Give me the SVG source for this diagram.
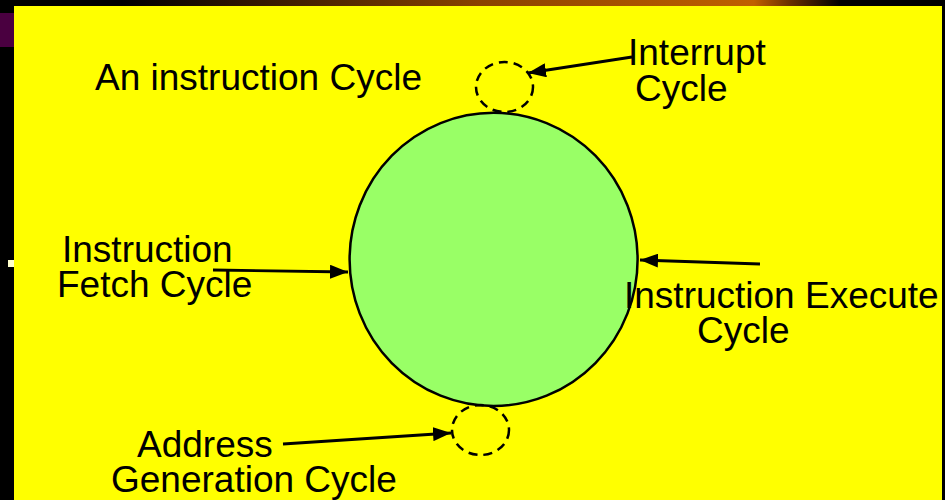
<svg xmlns="http://www.w3.org/2000/svg" width="945" height="500" viewBox="0 0 945 500">
<defs>
<linearGradient id="top" x1="122" y1="0" x2="840" y2="0" gradientUnits="userSpaceOnUse">
<stop offset="0" stop-color="#000000"/>
<stop offset="0.5" stop-color="#8a4200"/>
<stop offset="0.88" stop-color="#c06000"/>
<stop offset="0.93" stop-color="#6a3000"/>
<stop offset="1" stop-color="#000000"/>
</linearGradient>
<marker id="ah" viewBox="0 0 18 14" refX="18" refY="7" markerWidth="18" markerHeight="14" markerUnits="userSpaceOnUse" orient="auto">
<path d="M0,0 L18,7 L0,14 Z" fill="#000"/>
</marker>
<style>
.t{font-family:"Liberation Sans",Arial,sans-serif;font-size:37px;fill:#000}
.c{stroke:#000;stroke-width:2.8;fill:none;marker-end:url(#ah)}
.d{fill:none;stroke:#000;stroke-width:2.5;stroke-dasharray:9,6}
</style>
</defs>
<rect x="0" y="0" width="945" height="500" fill="#000"/>
<rect x="122" y="0" width="720" height="6" fill="url(#top)"/>
<rect x="0" y="13" width="14" height="34" fill="#4a0040"/>
<rect x="8" y="260" width="6" height="7" fill="#ffffcc"/>
<rect x="14" y="6" width="928" height="494" fill="#ffff00"/>

<g id="main-cycle">
<ellipse cx="493.6" cy="259.4" rx="144" ry="146.6" fill="#99ff66" stroke="#000" stroke-width="2.5"/>
</g>
<g id="interrupt-cycle">
<ellipse cx="504.5" cy="87" rx="28.5" ry="25" class="d"/>
</g>
<g id="address-cycle">
<ellipse cx="480.5" cy="430" rx="28.5" ry="25" class="d"/>
</g>

<g id="title"><text class="t" x="95" y="90">An instruction Cycle</text></g>
<g id="interrupt-label"><text class="t" x="628" y="65">Interrupt</text><text class="t" x="635" y="101">Cycle</text></g>
<g id="fetch-label"><text class="t" x="62" y="262">Instruction</text><text class="t" x="57" y="297">Fetch Cycle</text></g>
<g id="execute-label"><text class="t" x="624" y="308">Instruction Execute</text><text class="t" x="697" y="343">Cycle</text></g>
<g id="address-label"><text class="t" x="137" y="457">Address</text><text class="t" x="111" y="492">Generation Cycle</text></g>

<g id="connectors">
<line class="c" x1="632" y1="57" x2="528" y2="73"/>
<line class="c" x1="213" y1="270" x2="348" y2="272"/>
<line class="c" x1="760" y1="264" x2="640" y2="260"/>
<line class="c" x1="283" y1="444" x2="451" y2="433"/>
</g>
</svg>
